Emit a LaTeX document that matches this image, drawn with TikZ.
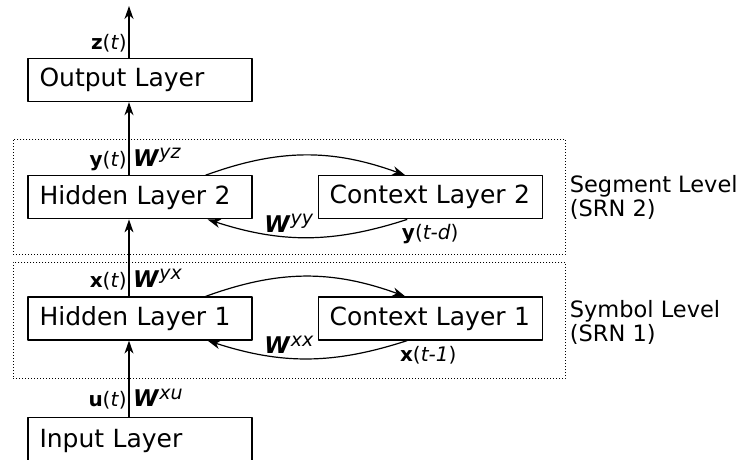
\documentclass[tikz,border=0pt]{standalone}
\usepackage{fontspec}
\setmainfont{DejaVu Sans}
\usetikzlibrary{positioning,fit,arrows.meta}
% weight label W^{..} and signal label v(t)
\newcommand{\wlab}[1]{{\fontsize{23}{26}\selectfont\textbf{\textit{W}}}\raisebox{7.5pt}{\fontsize{19}{19}\selectfont\textit{#1}}}
\newcommand{\vlab}[2]{\textbf{#1}(\textit{#2})}
\begin{document}
\begin{tikzpicture}[x=1pt, y=1pt, line join=round, >={Stealth[length=13pt,width=9pt,inset=4pt]}, font=\fontsize{20}{24}\selectfont]
	\tikzset{layer/.style={draw, line width=1.2pt, text width=201pt, inner xsep=11.5pt, minimum height=43pt, align=left, font=\fontsize{25}{29}\selectfont},
		level/.style={draw, dotted, line width=1pt, inner sep=0pt},
		conn/.style={->, line width=1.2pt},
		lab/.style={inner sep=0pt},
		side/.style={align=left, font=\fontsize{22.5}{24}\selectfont}}
	\useasboundingbox (0,0) rectangle (746,459);
	\clip (0,0) rectangle (746,459);
	%Các lớp
	\node[layer] (hidden1) at (140,140.5) {Hidden Layer 1};
	\node[layer, right=65pt of hidden1] (context1) {Context Layer 1};
	\node[layer, above=77pt of hidden1] (hidden2) {Hidden Layer 2};
	\node[layer, right=65pt of hidden2] (context2) {Context Layer 2};
	\node[layer, above=73pt of hidden2] (output) {Output Layer};
	\node[layer, below=76pt of hidden1, minimum height=48pt] (input) {Input Layer};
	\coordinate (zout) at ([xshift=-11pt, yshift=52pt]output.north);
	%Khung SRN
	\node[level, fit={([shift={(-14pt,36pt)}]hidden2.north west) ([shift={(23pt,-35pt)}]context2.south east)}] (srn2) {};
	\node[level, fit={([shift={(-14pt,34pt)}]hidden1.north west) ([shift={(23pt,-38pt)}]context1.south east)}] (srn1) {};
	\node[side, right=0pt of srn2, yshift=-1pt] (seg) {Segment Level\\(SRN 2)};
	\node[side, right=0pt of srn1, yshift=-2pt] (sym) {Symbol Level\\(SRN 1)};
	%Các mũi tên
	\draw[conn] ([xshift=-11pt]input.north) -- ([xshift=-11pt]hidden1.south);
	\draw[conn] ([xshift=-11pt]hidden1.north) -- ([xshift=-11pt]hidden2.south);
	\draw[conn] ([xshift=-11pt]hidden2.north) -- ([xshift=-11pt]output.south);
	\draw[conn] ([xshift=-11pt]output.north) -- (zout);
	\draw[conn] ([xshift=-47pt]hidden2.north east) to[bend left=20] ([xshift=-25pt]context2.north);
	\draw[conn] ([xshift=-23pt]context2.south) to[bend left=18] ([xshift=-45pt]hidden2.south east);
	\draw[conn] ([xshift=-47pt]hidden1.north east) to[bend left=20] ([xshift=-25pt]context1.north);
	\draw[conn] ([xshift=-23pt]context1.south) to[bend left=18] ([xshift=-45pt]hidden1.south east);
	%Nhãn
	\node[lab, anchor=base east] (zt) at ([xshift=-13pt, yshift=9pt]output.north) {\vlab{z}{t}};
	\node[lab, anchor=base east] (yt) at ([xshift=-13pt, yshift=9pt]hidden2.north) {\vlab{y}{t}};
	\node[lab, anchor=base west] (wyz) at ([xshift=-7pt, yshift=9pt]hidden2.north) {\wlab{yz}};
	\node[lab, anchor=base east] (xt) at ([xshift=-13pt, yshift=9pt]hidden1.north) {\vlab{x}{t}};
	\node[lab, anchor=base west] (wyx) at ([xshift=-7pt, yshift=9pt]hidden1.north) {\wlab{yx}};
	\node[lab, anchor=base east] (ut) at ([xshift=-13pt, yshift=10pt]input.north) {\vlab{u}{t}};
	\node[lab, anchor=base west] (wxu) at ([xshift=-7pt, yshift=10pt]input.north) {\wlab{xu}};
	\node[lab, anchor=base east] (wyy) at ([xshift=-4pt, yshift=-13pt]context2.south west) {\wlab{yy}};
	\node[lab, anchor=base east] (wxx) at ([xshift=-4pt, yshift=-13pt]context1.south west) {\wlab{xx}};
	\node[lab, anchor=base] (ytd) at ([xshift=0pt, yshift=-20pt]context2.south) {\vlab{y}{t-d}};
	\node[lab, anchor=base] (xt1) at ([xshift=-2pt, yshift=-21pt]context1.south) {\vlab{x}{t-1}};
\end{tikzpicture}
\end{document}
